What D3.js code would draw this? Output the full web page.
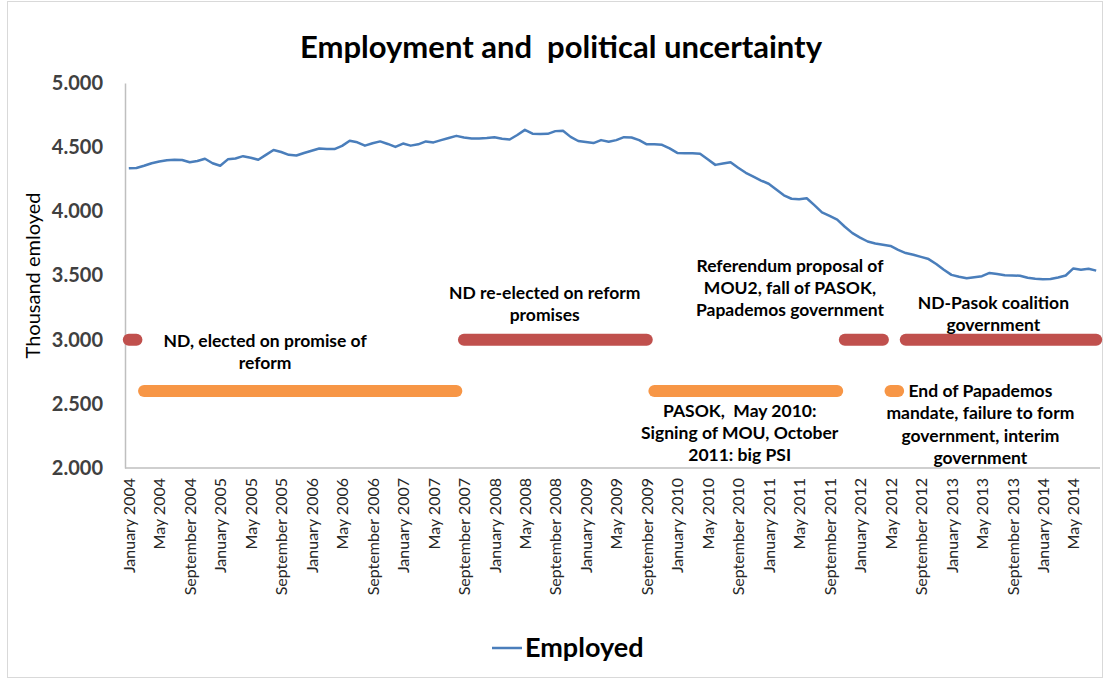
<!DOCTYPE html>
<html>
<head>
<meta charset="utf-8">
<script src="https://cdn.jsdelivr.net/npm/d3@7"></script>
<style>
  body { margin: 0; background: #fff; }
  svg { display: block; font-family: Lato, "Open Sans", sans-serif; }
</style>
</head>
<body>
<div id="chart"></div>
<script>
// monthly categories, January 2004 - August 2014
const months = d3.timeMonth.range(new Date(2004, 0, 1), new Date(2014, 8, 1));

// thousand employed
const employed = [
  4335, 4338, 4355, 4375, 4388, 4398, 4402, 4400, 4382, 4392, 4410, 4375,
  4355, 4405, 4412, 4430, 4418, 4402, 4440, 4478, 4462, 4440, 4435, 4455,
  4472, 4490, 4485, 4485, 4510, 4550, 4538, 4512, 4530, 4545, 4525, 4502,
  4528, 4512, 4522, 4545, 4537, 4555, 4572, 4588, 4575, 4568, 4568, 4572,
  4578, 4565, 4560, 4595, 4635, 4605, 4603, 4604, 4625, 4628, 4580, 4548,
  4540, 4532, 4555, 4542, 4555, 4578, 4575, 4555, 4522, 4522, 4518, 4490,
  4455, 4452, 4452, 4448, 4405, 4362, 4372, 4383, 4340, 4300, 4270, 4240,
  4215, 4170, 4125, 4098, 4095, 4102, 4048, 3992, 3965, 3935, 3880, 3830,
  3795, 3765, 3750, 3740, 3730, 3700, 3675, 3662, 3645, 3628, 3590, 3545,
  3505, 3490, 3478, 3486, 3495, 3520, 3512, 3502, 3500, 3498, 3482, 3475,
  3470, 3472, 3485, 3500, 3555, 3545, 3552, 3538
];

const yTicks = [2000, 2500, 3000, 3500, 4000, 4500, 5000];

// political periods: first and last month index, level on the value axis, kind
const periodStart = [0, 2, 44, 69, 94, 100, 102];
const periodEnd   = [1, 43, 68, 93, 99, 101, 127];
const periodLevel = [3000, 2600, 3000, 2600, 3000, 2600, 3000];
const periodKind  = ["nd", "pasok", "nd", "pasok", "nd", "pasok", "nd"];

// annotation texts, anchored at a month index and a value (first line)
const noteLines = [
  ["ND, elected on promise of", "reform"],
  ["ND re-elected on reform", "promises"],
  ["Referendum proposal of", "MOU2, fall of PASOK,", "Papademos government"],
  ["ND-Pasok coalition", "government"],
  ["PASOK,  May 2010:", "Signing of MOU, October", "2011: big PSI"],
  ["End of Papademos", "mandate, failure to form", "government, interim", "government"]
];
const noteMonth = [17.9, 54.6, 86.8, 113.5, 80.2, 111.8];
const noteValue = [2990, 3365, 3575, 3290, 2445, 2600];

const W = 1105, H = 682;
const margin = { top: 83, right: 5, bottom: 214, left: 125 };

const svg = d3.select("#chart").append("svg")
  .attr("width", W).attr("height", H);

// chart frame
svg.append("rect")
  .attr("x", 7.5).attr("y", 1.5)
  .attr("width", W - 10).attr("height", H - 6)
  .attr("fill", "none").attr("stroke", "#d9d9d9");

const x = d3.scalePoint()
  .domain(d3.range(months.length))
  .range([margin.left, W - margin.right])
  .padding(0.5);

const y = d3.scaleLinear()
  .domain([2000, 5000])
  .range([H - margin.bottom, margin.top]);

const fmt = d3.formatLocale({ decimal: ",", thousands: ".", grouping: [3], currency: ["", ""] }).format(",");

// title
svg.append("text")
  .attr("x", 561).attr("y", 58)
  .attr("text-anchor", "middle")
  .style("font-size", "31px").style("font-weight", "700")
  .style("fill", "#000")
  .attr("xml:space", "preserve")
  .text("Employment and  political uncertainty");

// axes
svg.append("g")
  .attr("transform", `translate(${margin.left},0)`)
  .call(d3.axisLeft(y).tickValues(yTicks).tickSize(0).tickPadding(22).tickFormat(fmt))
  .call(g => g.select(".domain").attr("stroke", "#bfbfbf").attr("stroke-width", 1.5))
  .call(g => g.selectAll("text")
    .style("font-family", "Lato, sans-serif")
    .style("font-size", "20px").style("font-weight", "700").style("fill", "#404040"));

const tickIdx = d3.range(0, months.length, 4);
const monthFmt = d3.timeFormat("%B %Y");

svg.append("g")
  .attr("transform", `translate(0,${H - margin.bottom})`)
  .call(d3.axisBottom(x).tickValues(tickIdx).tickSize(0).tickFormat(i => monthFmt(months[i])))
  .call(g => g.select(".domain").attr("stroke", "#bfbfbf").attr("stroke-width", 1.5)
    .attr("d", `M${margin.left},0H${W - margin.right}`))
  .call(g => g.selectAll("text")
    .attr("transform", "rotate(-90)")
    .attr("text-anchor", "end")
    .attr("x", -10).attr("y", 0).attr("dy", "0.35em")
    .style("font-family", "Lato, sans-serif")
    .style("font-size", "16px").style("fill", "#262626"));

// y axis title
svg.append("text")
  .attr("transform", `translate(40,${(y(2000) + y(5000)) / 2}) rotate(-90)`)
  .attr("text-anchor", "middle")
  .style("font-size", "20px").style("fill", "#000")
  .text("Thousand emloyed");

// period bars
const periodColor = { nd: "#c0504d", pasok: "#f79646" };
svg.append("g").selectAll("line")
  .data(d3.range(periodStart.length))
  .join("line")
  .attr("x1", i => x(periodStart[i]))
  .attr("x2", i => x(periodEnd[i]))
  .attr("y1", i => y(periodLevel[i]))
  .attr("y2", i => y(periodLevel[i]))
  .attr("stroke", i => periodColor[periodKind[i]])
  .attr("stroke-width", 12)
  .attr("stroke-linecap", "round");

// employment line
svg.append("path")
  .datum(employed)
  .attr("fill", "none")
  .attr("stroke", "#4a7ebb")
  .attr("stroke-width", 2.5)
  .attr("stroke-linejoin", "round")
  .attr("d", d3.line().x((d, i) => x(i)).y(d => y(d)));

// annotations
const notes = svg.append("g")
  .style("font-size", "17.5px").style("font-weight", "700").style("fill", "#000");
noteLines.forEach((lines, k) => {
  const cx = margin.left + (noteMonth[k] + 0.5) * x.step();
  const t = notes.append("text")
    .attr("text-anchor", "middle")
    .attr("x", cx)
    .attr("y", y(noteValue[k]));
  lines.forEach((s, j) => {
    t.append("tspan")
      .attr("x", cx)
      .attr("dy", j === 0 ? "0.35em" : "1.27em")
      .attr("xml:space", "preserve")
      .text(s);
  });
});

// legend
const lg = svg.append("g").attr("transform", "translate(492,648)");
lg.append("line").attr("x1", 0).attr("x2", 30)
  .attr("stroke", "#4a7ebb").attr("stroke-width", 2.5);
lg.append("text").attr("x", 33).attr("y", 0).attr("dy", "0.35em")
  .style("font-size", "27px").style("font-weight", "700").style("fill", "#000")
  .text("Employed");
</script>
</body>
</html>
